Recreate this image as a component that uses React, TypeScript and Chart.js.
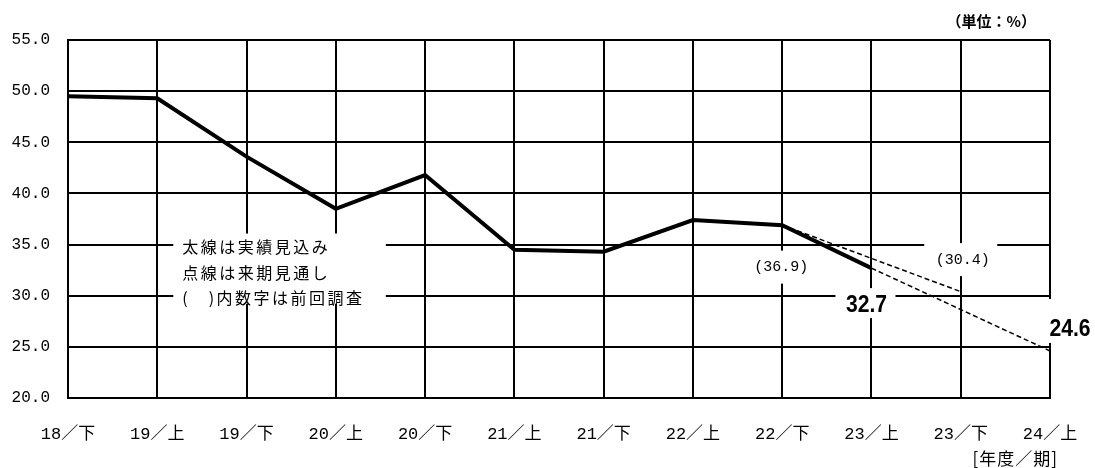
import React, { useEffect, useRef } from "react";
import { Chart, registerables } from "chart.js";

Chart.register(...registerables);

// Period labels (fiscal year / half)
const categories = [
  "18／下", "19／上", "19／下", "20／上", "20／下", "21／上",
  "21／下", "22／上", "22／下", "23／上", "23／下", "24／上",
];

// Thick line: actual / estimated values (%)
const actualValues = [49.5, 49.3, 43.6, 38.5, 41.8, 34.5, 34.3, 37.4, 36.9, 32.7, null, null];
// Dashed line: outlook for next period
const outlookValues = [null, null, null, null, null, null, null, null, null, 32.7, null, 24.6];
// Dashed line: previous survey figures
const previousValues = [null, null, null, null, null, null, null, null, 36.9, null, 30.4, null];

const yTicks = { min: 20, max: 55, step: 5 };

const legendLines = ["太線は実績見込み", "点線は来期見通し", "(　)内数字は前回調査"];
const unitLabel = "（単位：%）";
const axisLabel = "[年度／期]";

const MONO = '"Liberation Mono", "Noto Sans CJK JP", monospace';
const CJK = '"Noto Sans CJK JP", sans-serif';

type ValueLabel = {
  data: (number | null)[];
  index: number;
  bold: boolean;
  paren: boolean;
  dx: number; // text centre offset from the point
  dy: number;
  box: { dx: number; dy: number; w: number; h: number }; // white backing, relative to text centre
};

const valueLabels: ValueLabel[] = [
  { data: previousValues, index: 8, bold: false, paren: true, dx: -1, dy: 42, box: { dx: 0, dy: 0, w: 60, h: 33 } },
  { data: previousValues, index: 10, bold: false, paren: true, dx: 2, dy: -32, box: { dx: -2, dy: 0, w: 73, h: 33 } },
  { data: actualValues, index: 9, bold: true, paren: false, dx: -5, dy: 36, box: { dx: -1, dy: -1, w: 60, h: 30 } },
  { data: outlookValues, index: 11, bold: true, paren: false, dx: 20, dy: -23, box: { dx: -1, dy: -7, w: 53, h: 44 } },
];

const labelsPlugin = {
  id: "valueLabels",
  beforeDatasetsDraw(chart: any) {
    const { ctx, scales } = chart;
    const x = scales.x;
    const y = scales.y;
    ctx.save();
    ctx.fillStyle = "#ffffff";
    // backing for the explanatory note
    const nl = x.getPixelForValue(1) + 16;
    const nr = x.getPixelForValue(3) + 50;
    const nt = y.getPixelForValue(35) - 11;
    const nb = y.getPixelForValue(30) + 8;
    ctx.fillRect(nl, nt, nr - nl, nb - nt);
    for (const l of valueLabels) {
      const v = l.data[l.index] as number;
      const cx = x.getPixelForValue(l.index) + l.dx + l.box.dx;
      const cy = y.getPixelForValue(v) + l.dy + l.box.dy;
      ctx.fillRect(cx - l.box.w / 2, cy - l.box.h / 2, l.box.w, l.box.h);
    }
    ctx.restore();
  },
  afterDatasetsDraw(chart: any) {
    const { ctx, chartArea, scales } = chart;
    const x = scales.x;
    const y = scales.y;
    ctx.save();
    ctx.fillStyle = "#000000";
    ctx.textBaseline = "middle";

    // explanatory note
    ctx.font = `16px ${CJK}`;
    ctx.textAlign = "left";
    (ctx as any).letterSpacing = "2.5px";
    const noteX = x.getPixelForValue(1) + 25;
    const noteY = y.getPixelForValue(35) + 2.7;
    legendLines.forEach((t, i) => ctx.fillText(t, noteX, noteY + i * 25.5));
    (ctx as any).letterSpacing = "0px";

    // value labels
    for (const l of valueLabels) {
      const v = l.data[l.index] as number;
      const px = x.getPixelForValue(l.index) + l.dx;
      const py = y.getPixelForValue(v) + l.dy;
      const text = l.paren ? `(${v.toFixed(1)})` : v.toFixed(1);
      ctx.textAlign = "center";
      if (l.bold) {
        ctx.save();
        ctx.font = `bold 24px "Liberation Sans", sans-serif`;
        ctx.translate(px, py);
        ctx.scale(0.88, 1);
        ctx.fillText(text, 0, 1);
        ctx.restore();
      } else {
        ctx.font = `15px ${MONO}`;
        ctx.fillText(text, px, py);
      }
    }

    // unit and axis captions
    ctx.font = `bold 15px ${CJK}`;
    ctx.textAlign = "right";
    ctx.fillText(unitLabel, chartArea.right - 14, chartArea.top - 19);
    ctx.font = `17px ${CJK}`;
    (ctx as any).letterSpacing = "1px";
    ctx.fillText(axisLabel, chartArea.right + 8, chartArea.bottom + 61);
    (ctx as any).letterSpacing = "0px";
    ctx.restore();
  },
};

export default function App() {
  const canvasRef = useRef<HTMLCanvasElement | null>(null);

  useEffect(() => {
    if (!canvasRef.current) return;
    const chart = new Chart(canvasRef.current, {
      type: "line",
      data: {
        labels: categories,
        datasets: [
          {
            label: "実績見込み",
            data: actualValues,
            borderColor: "#000000",
            borderWidth: 4,
            pointRadius: 0,
            tension: 0,
            spanGaps: false,
            borderJoinStyle: "miter",
          },
          {
            label: "来期見通し",
            data: outlookValues,
            borderColor: "#000000",
            borderWidth: 1.5,
            borderDash: [5, 3],
            pointRadius: 0,
            spanGaps: true,
          },
          {
            label: "前回調査",
            data: previousValues,
            borderColor: "#000000",
            borderWidth: 1.5,
            borderDash: [5, 3],
            pointRadius: 0,
            spanGaps: true,
          },
        ],
      },
      options: {
        animation: false,
        responsive: true,
        maintainAspectRatio: false,
        layout: { padding: { left: 0, right: 45, top: 40, bottom: 0 } },
        plugins: {
          legend: { display: false },
          tooltip: { enabled: false },
          title: { display: false },
        },
        scales: {
          x: {
            type: "category",
            offset: false,
            grid: { color: "#000000", lineWidth: 2, drawTicks: false },
            border: { display: true, color: "#000000", width: 2 },
            ticks: {
              autoSkip: false,
              maxRotation: 0,
              padding: 26,
              color: "#000000",
              font: { family: MONO, size: 17 },
            },
            afterFit: (s: any) => {
              s.height = 70;
              s.paddingLeft = 0;
              s.paddingRight = 0;
            },
          },
          y: {
            min: yTicks.min,
            max: yTicks.max,
            grid: { color: "#000000", lineWidth: 2, drawTicks: false },
            border: { display: true, color: "#000000", width: 2 },
            ticks: {
              stepSize: yTicks.step,
              padding: 18,
              color: "#000000",
              font: { family: MONO, size: 16 },
              callback: (v: any) => Number(v).toFixed(1),
            },
            afterFit: (s: any) => {
              s.width = 68;
              s.paddingTop = 0;
              s.paddingBottom = 0;
            },
          },
        },
      },
      plugins: [labelsPlugin],
    });
    return () => chart.destroy();
  }, []);

  return (
    <div style={{ position: "fixed", left: 0, top: 0, width: 1095, height: 468, background: "#ffffff" }}>
      <canvas ref={canvasRef} />
    </div>
  );
}
